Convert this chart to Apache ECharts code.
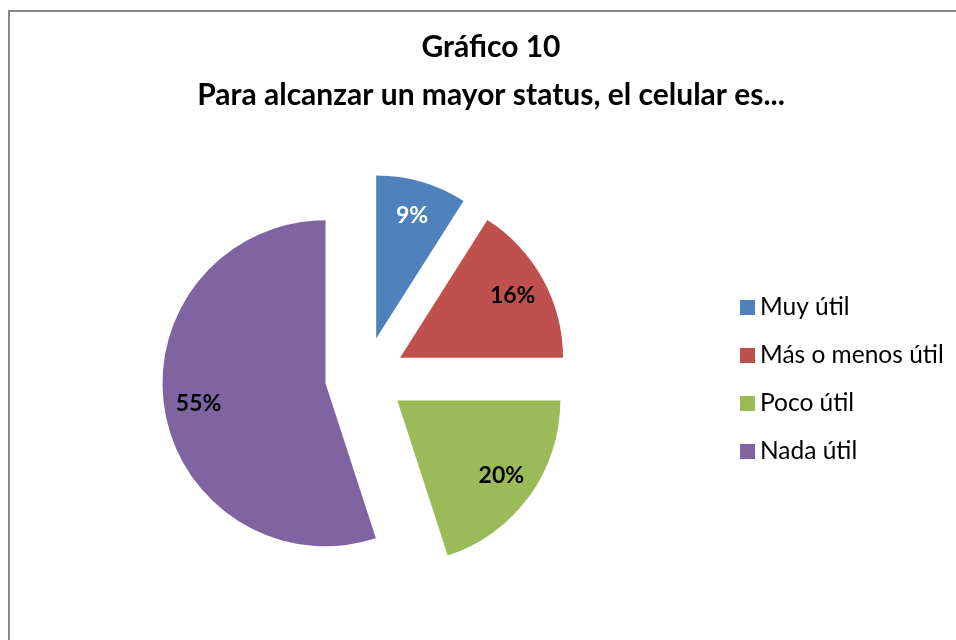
<!DOCTYPE html>
<html>
<head>
<meta charset="utf-8">
<script src="https://cdn.jsdelivr.net/npm/echarts@6/dist/echarts.min.js"></script>
<style>
  html, body { margin: 0; padding: 0; background: #fff; }
  #chart { width: 956px; height: 640px; }
</style>
</head>
<body>
<div id="chart"></div>
<script>
const categories = ["Muy útil", "Más o menos útil", "Poco útil", "Nada útil"];
const values = [9, 16, 20, 55];
const colors = ["#4F81BD", "#C0504D", "#9BBB59", "#8064A2"];
const labelColors = ["#ffffff", "#000000", "#000000", "#000000"];

const font = "Lato, 'Open Sans', sans-serif";
const center = [365, 377];
const offset = 40;

const chart = echarts.init(document.getElementById("chart"));

function slices(withColor) {
  return categories.map((name, i) => ({
    name,
    value: values[i],
    selected: true,
    itemStyle: withColor ? { color: colors[i] } : { color: "rgba(0,0,0,0)" },
    select: { itemStyle: withColor ? { color: colors[i], borderWidth: 0 } : { color: "rgba(0,0,0,0)", borderWidth: 0 } },
    label: { color: labelColors[i] },
  }));
}

chart.setOption({
  animation: false,
  title: {
    text: "Gráfico 10\nPara alcanzar un mayor status, el celular es...",
    left: 486,
    top: 18,
    textAlign: "center",
    textStyle: { fontFamily: font, fontSize: 30, fontWeight: "bold", color: "#000", lineHeight: 48 },
  },
  legend: {
    orient: "vertical",
    left: 735,
    top: 290,
    itemWidth: 15,
    itemHeight: 15,
    itemGap: 23,
    icon: "rect",
    data: categories,
    selectedMode: false,
    textStyle: { fontFamily: font, fontSize: 24.5, color: "#000", lineHeight: 24 },
  },
  color: colors,
  graphic: [
    {
      type: "rect",
      shape: { x: 9, y: 11, width: 1200, height: 1200 },
      style: { fill: "none", stroke: "#878787", lineWidth: 2 },
      silent: true,
    },
  ],
  series: [
    {
      type: "pie",
      center,
      radius: [0, 163],
      startAngle: 90,
      selectedMode: "multiple",
      selectedOffset: offset,
      silent: true,
      emphasis: { disabled: true },
      label: { show: false },
      labelLine: { show: false },
      data: slices(true),
    },
    {
      type: "pie",
      center,
      radius: [88, 163],
      startAngle: 90,
      selectedMode: "multiple",
      selectedOffset: offset,
      silent: true,
      emphasis: { disabled: true },
      label: {
        show: true,
        position: "inside",
        formatter: "{c}%",
        fontFamily: font,
        fontSize: 23,
        fontWeight: "bold",
      },
      labelLine: { show: false },
      data: slices(false),
    },
  ],
});
</script>
</body>
</html>
